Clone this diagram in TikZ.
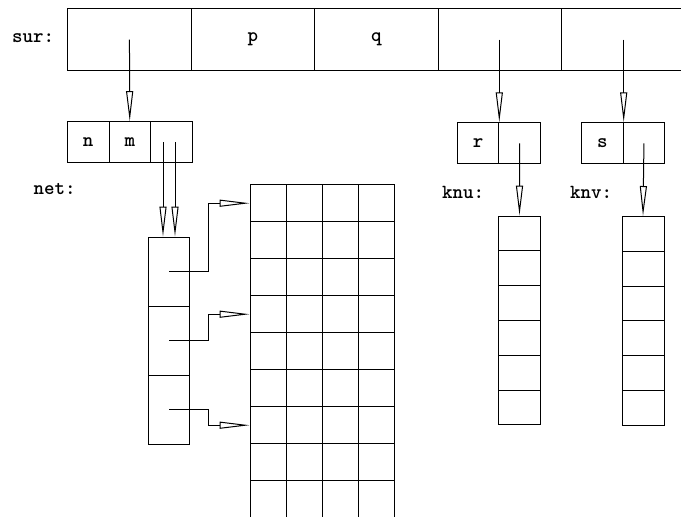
\documentclass[tikz,border=0pt]{standalone}
\usetikzlibrary{arrows.meta, calc}
\tikzset{
  cell/.style={draw, minimum width=20.75pt, minimum height=20.5pt, inner sep=0pt, font=\ttfamily\bfseries},
  topcell/.style={cell, minimum width=61.75pt, minimum height=31pt},
  netcell/.style={cell, minimum width=20.5pt, minimum height=34.5pt},
  listcell/.style={cell, minimum width=21pt, minimum height=17.4pt},
  gridcell/.style={cell, minimum width=18pt, minimum height=18.5pt},
  lbl/.style={font=\ttfamily\bfseries, inner sep=0pt},
  ptr/.style={-{Triangle[open, length=15pt, width=3.5pt]}},
}
\begin{document}
\begin{tikzpicture}[x=0.5pt, y=-0.5pt, line width=0.5pt]
    \useasboundingbox (0,0) rectangle (681,516);
    \foreach \i/\t in {1/,2/p,3/q,4/,5/}
      \node[topcell] (sur\i) at ({67.7+123.5*(\i-0.5)},39.5) {\t};
    \foreach \i/\t in {1/n,2/m,3/}
      \node[cell] (nm\i) at ({67.5+41.5*(\i-0.5)},142.2) {\t};
    \foreach \i/\t in {1/r,2/}
      \node[cell] (r\i) at ({457.3+41.5*(\i-0.5)},143.3) {\t};
    \foreach \i/\t in {1/s,2/}
      \node[cell] (s\i) at ({581.7+41.5*(\i-0.5)},143.3) {\t};
    \foreach \i in {1,...,3}
      \node[netcell] (net\i) at (169,{237+69*(\i-0.5)}) {};
    \foreach \i in {1,...,6} {
      \node[listcell] (knu\i) at (519.5,{216+34.8*(\i-0.5)}) {};
      \node[listcell] (knv\i) at (643,{216.5+34.8*(\i-0.5)}) {};
    }
    \foreach \r in {1,...,9}
      \foreach \c in {1,...,4}
        \node[gridcell] (g\r-\c) at ({250+36*(\c-0.5)},{184.7+37*(\r-0.5)}) {};
    \node[lbl] (surlbl) at (33,38) {sur:};
    \node[lbl] (netlbl) at (54.5,189) {net:};
    \node[lbl] (knulbl) at (463,192) {knu:};
    \node[lbl] (knvlbl) at (591,192) {knv:};
    \draw[ptr] (sur1.center) -- (nm2.north);
    \draw[ptr] (sur4.center -| r1.north east) -- (r1.north east);
    \draw[ptr] (sur5.center -| s1.north east) -- (s1.north east);
    \draw[ptr] (r2.center) -- (knu1.north);
    \draw[ptr] (s2.center) -- (knv1.north);
    \foreach \dx [count=\k] in {-6,6} {
      \coordinate (in\k) at ($(net1.north)+(\dx,0)$);
      \draw[ptr] (in\k |- nm3.center) -- (in\k);
    }
    \foreach \i/\r in {1/1,2/4,3/7}
      \draw[ptr] (net\i.center) -- ++(39,0) |- (g\r-1.west);
  \end{tikzpicture}
\end{document}
